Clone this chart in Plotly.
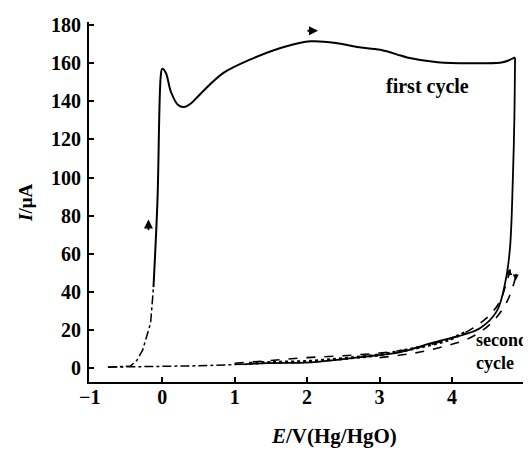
import plotly.graph_objects as go

# ---- data ----
rise_E = [-0.75, -0.55, -0.44, -0.35, -0.27, -0.16, -0.12]
rise_I = [0.5, 0.6, 1.0, 4.0, 9.4, 23.6, 42.5]

fwd1_E = [-0.12, -0.065, -0.02, 0.0, 0.05, 0.12, 0.22, 0.30, 0.40, 0.53, 0.85, 1.22,
          1.68, 2.05, 2.42, 2.69, 3.01, 3.29, 3.38, 3.80, 4.39, 4.70, 4.87]
fwd1_I = [42.5, 88, 153, 157, 155, 145, 138, 137, 139, 144, 155, 162,
          168.5, 171.5, 170.5, 168.5, 167, 164, 163, 160.5, 160, 160.5, 163]

rev1_E = [4.87, 4.86, 4.84, 4.80, 4.74, 4.62, 4.39, 4.16, 3.98, 3.70, 3.29, 2.74,
          2.05, 1.45, 1.12]
rev1_I = [163, 130, 100, 63, 46, 30, 21, 17.5, 15.7, 13, 8.4, 5.8, 3.0, 2.6, 2.0]

base_E = [1.12, 0.5, -0.2, -0.75]
base_I = [2.0, 1.2, 0.8, 0.5]

cyc2a_E = [1.0, 1.5, 2.0, 2.5, 3.0, 3.5, 3.94, 4.2, 4.39, 4.55, 4.67, 4.76, 4.83]
cyc2a_I = [2.5, 4.0, 5.5, 6.5, 7.9, 10.5, 15, 19, 23.6, 29, 35.7, 46, 55]

cyc2b_E = [3.0, 3.5, 3.9, 4.2, 4.43, 4.6, 4.76, 4.85, 4.9]
cyc2b_I = [5.5, 8.0, 11.5, 15, 20, 26, 35, 44, 51]

dot_E = [1.2, 1.5, 2.0, 2.5, 3.0, 3.5, 3.94, 4.2]
dot_I = [2.5, 3.0, 3.5, 5.0, 7.0, 10.5, 14.7, 19]

x_ticks = [-1, 0, 1, 2, 3, 4]
x_labels = ["\u22121", "0", "1", "2", "3", "4"]
y_ticks = [0, 20, 40, 60, 80, 100, 120, 140, 160, 180]

FONT = "Liberation Serif"

fig = go.Figure()
fig.add_trace(go.Scatter(x=rise_E, y=rise_I, mode="lines",
                         line=dict(color="black", width=1.5, dash="dashdot")))
fig.add_trace(go.Scatter(x=fwd1_E, y=fwd1_I, mode="lines", line_shape="spline",
                         line=dict(color="black", width=2)))
fig.add_trace(go.Scatter(x=rev1_E, y=rev1_I, mode="lines", line_shape="spline",
                         line=dict(color="black", width=1.8)))
fig.add_trace(go.Scatter(x=base_E, y=base_I, mode="lines",
                         line=dict(color="black", width=1.5, dash="dashdot")))
fig.add_trace(go.Scatter(x=cyc2a_E, y=cyc2a_I, mode="lines", line_shape="spline",
                         line=dict(color="black", width=1.6, dash="dash")))
fig.add_trace(go.Scatter(x=cyc2b_E, y=cyc2b_I, mode="lines", line_shape="spline",
                         line=dict(color="black", width=1.6, dash="dash")))
fig.add_trace(go.Scatter(x=dot_E, y=dot_I, mode="lines", line_shape="spline",
                         line=dict(color="black", width=3, dash="dot")))

ann = []
# direction arrows
ann.append(dict(x=-0.19, y=78, ax=0, ay=12, xref="x", yref="y", showarrow=True,
                arrowhead=2, arrowsize=1, arrowwidth=1.8, arrowcolor="black", text=""))
ann.append(dict(x=2.15, y=177, ax=-12, ay=0, xref="x", yref="y", showarrow=True,
                arrowhead=2, arrowsize=1, arrowwidth=1.8, arrowcolor="black", text=""))
ann.append(dict(x=5.04, y=126, ax=0, ay=-12, xref="x", yref="y", showarrow=True,
                arrowhead=2, arrowsize=1, arrowwidth=1.8, arrowcolor="black", text=""))
ann.append(dict(x=4.79, y=52, ax=0, ay=8, xref="x", yref="y", showarrow=True,
                arrowhead=2, arrowsize=0.8, arrowwidth=1.5, arrowcolor="black", text=""))
ann.append(dict(x=4.88, y=46, ax=0, ay=-8, xref="x", yref="y", showarrow=True,
                arrowhead=2, arrowsize=0.8, arrowwidth=1.5, arrowcolor="black", text=""))
# labels
ann.append(dict(x=3.06, y=148, xref="x", yref="y", showarrow=False, xanchor="left",
                text="<b>first cycle</b>", font=dict(family=FONT, size=20, color="black")))
ann.append(dict(x=4.30, y=8.5, xref="x", yref="y", showarrow=False, xanchor="left",
                align="left", text="<b>second<br>cycle</b>",
                font=dict(family=FONT, size=18, color="black")))
# axis titles (paper coordinates)
ann.append(dict(x=-0.145, y=0.497, xref="paper", yref="paper", showarrow=False,
                xanchor="center", yanchor="middle",
                text="<b><i>I</i>/\u03bcA</b>", textangle=-90,
                font=dict(family=FONT, size=19, color="black")))
ann.append(dict(x=0.554, y=-0.150, xref="paper", yref="paper", showarrow=False,
                xanchor="center", yanchor="middle",
                text="<b><i>E</i>/V(Hg/HgO)</b>",
                font=dict(family=FONT, size=21, color="black")))

fig.update_layout(
    width=523, height=442,
    margin=dict(l=81, r=0, t=14, b=68),
    plot_bgcolor="white", paper_bgcolor="white",
    showlegend=False,
    annotations=ann,
    xaxis=dict(range=[-1.01, 5.09], tickvals=x_ticks,
               ticktext=["<b>%s</b>" % t for t in x_labels],
               showgrid=False, zeroline=False, showline=True, linecolor="black",
               linewidth=2, ticks="inside", ticklen=5, tickwidth=2, tickcolor="black",
               tickfont=dict(family=FONT, size=20, color="black"), ticklabelstandoff=-4),
    yaxis=dict(range=[-7.3, 181.6], tickvals=y_ticks,
               ticktext=["<b>%d</b>" % v for v in y_ticks],
               showgrid=False, zeroline=False, showline=True, linecolor="black",
               linewidth=2, ticks="inside", ticklen=5, tickwidth=2, tickcolor="black",
               tickfont=dict(family=FONT, size=20, color="black"), ticklabelstandoff=2),
)

fig.write_html("out.html")
